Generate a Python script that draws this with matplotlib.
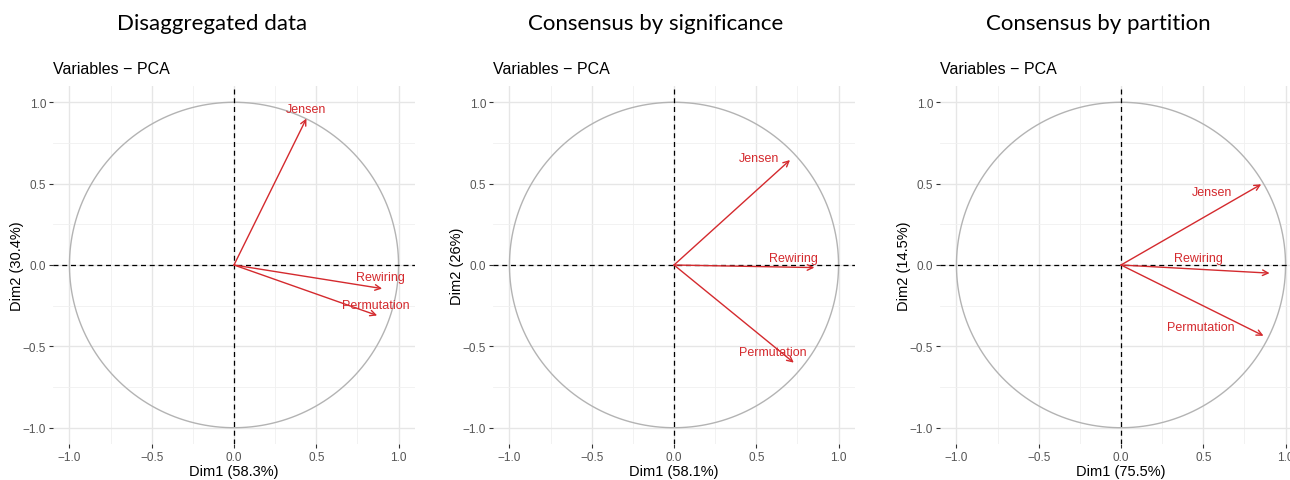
#!/usr/bin/env python3
"""PCA variable correlation circles for three data sets."""

import numpy as np
import matplotlib.pyplot as plt
from matplotlib.ticker import MultipleLocator

plt.rcParams["font.family"] = ["Liberation Sans", "DejaVu Sans"]

titles = ["Disaggregated data", "Consensus by significance", "Consensus by partition"]
variables = ["Jensen", "Rewiring", "Permutation"]
dim1_pct = [58.3, 58.1, 75.5]
dim2_pct = ["30.4", "26", "14.5"]

# arrow tips (Dim1, Dim2) per panel, order follows `variables`
dim1_coords = [
    [0.44, 0.90, 0.87],
    [0.705, 0.853, 0.728],
    [0.852, 0.903, 0.866],
]
dim2_coords = [
    [0.90, -0.145, -0.31],
    [0.645, -0.016, -0.60],
    [0.496, -0.05, -0.435],
]

# label offsets from arrow tip (data units), like the repelled labels
label_dx = [
    [0.0, -0.01, -0.01],
    [-0.19, -0.13, -0.13],
    [-0.30, -0.43, -0.38],
]
label_dy = [
    [0.06, 0.07, 0.065],
    [0.01, 0.062, 0.066],
    [-0.05, 0.095, 0.055],
]

red = "#D42A2E"
left_px = [53, 493, 940]
title_cx = [212, 656, 1098]


def fmt(v, pos):
    return f"{v:.1f}".replace("-", "\u2212")


fig = plt.figure(figsize=(12.9, 4.81), dpi=100)

for i in range(3):
    ax = fig.add_axes([left_px[i] / 1290, 1 - 445 / 481, 362 / 1290, 358 / 481])
    ax.set_xlim(-1.1, 1.1)
    ax.set_ylim(-1.1, 1.1)

    ax.xaxis.set_major_locator(MultipleLocator(0.5))
    ax.yaxis.set_major_locator(MultipleLocator(0.5))
    ax.xaxis.set_minor_locator(MultipleLocator(0.25))
    ax.yaxis.set_minor_locator(MultipleLocator(0.25))
    ax.grid(which="major", color="#E6E6E6", lw=1.0)
    ax.grid(which="minor", color="#F0F0F0", lw=0.6)
    ax.set_axisbelow(True)
    for sp in ax.spines.values():
        sp.set_visible(False)
    ax.tick_params(which="major", length=3, width=0.8, color="#333333",
                   labelsize=8.5, labelcolor="#555555", pad=2)
    ax.tick_params(which="minor", length=0)
    ax.xaxis.set_major_formatter(plt.FuncFormatter(fmt))
    ax.yaxis.set_major_formatter(plt.FuncFormatter(fmt))

    t = np.linspace(0, 2 * np.pi, 400)
    ax.plot(np.cos(t), np.sin(t), color="#B3B3B3", lw=1.0)
    ax.axhline(0, color="black", lw=0.9, ls=(0, (4, 3)))
    ax.axvline(0, color="black", lw=0.9, ls=(0, (4, 3)))

    for j, name in enumerate(variables):
        x, y = dim1_coords[i][j], dim2_coords[i][j]
        ax.annotate("", xy=(x, y), xytext=(0, 0),
                    arrowprops=dict(arrowstyle="->", color=red, lw=1.0,
                                    mutation_scale=10, shrinkA=0, shrinkB=0))
        ax.text(x + label_dx[i][j], y + label_dy[i][j], name, color=red,
                fontsize=9, ha="center", va="center")

    ax.set_xlabel(f"Dim1 ({dim1_pct[i]}%)", fontsize=10.5, labelpad=1)
    ax.set_ylabel(f"Dim2 ({dim2_pct[i]}%)", fontsize=10.5, labelpad=-1)
    ax.set_title("Variables \u2212 PCA", loc="left", fontsize=11.5, pad=9, x=0.0)
    fig.text(title_cx[i] / 1290, 1 - 24 / 481, titles[i],
             fontsize=16, ha="center", va="center", family="Lato")

plt.savefig("out.png", dpi=100)
